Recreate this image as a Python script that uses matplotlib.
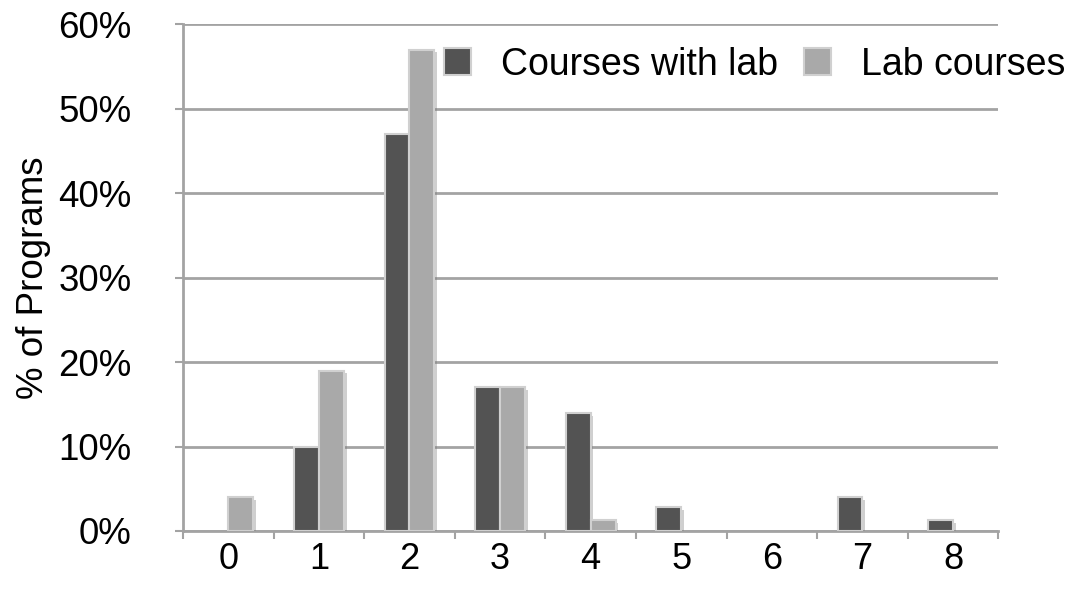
import matplotlib
matplotlib.use("Agg")
import matplotlib.pyplot as plt
import matplotlib.patheffects as pe
from matplotlib.patches import Patch
import numpy as np

categories = ["0", "1", "2", "3", "4", "5", "6", "7", "8"]
courses_with_lab = [0, 10, 47, 17, 14, 2.8, 0, 4, 1.3]
lab_courses = [4, 19, 57, 17, 1.3, 0, 0, 0, 0]
y_ticks = [0, 10, 20, 30, 40, 50, 60]

dark = "#535353"
light = "#a9a9a9"
edge = "#d0d0d0"

plt.rcParams["font.family"] = ["Liberation Sans", "DejaVu Sans"]

fig = plt.figure(figsize=(10.7, 5.9), dpi=100)
ax = fig.add_axes([0.171, 0.1, 0.762, 0.859])

x = np.arange(len(categories))
w = 0.275
shadow = [pe.SimplePatchShadow(offset=(2, -2), alpha=0.35, shadow_rgbFace="#777777"), pe.Normal()]

b1 = ax.bar(x - w / 2, courses_with_lab, width=w, color=dark,
            edgecolor=edge, linewidth=1.5, zorder=3)
b2 = ax.bar(x + w / 2, lab_courses, width=w, color=light,
            edgecolor=edge, linewidth=1.5, zorder=3)
for bars, vals in ((b1, courses_with_lab), (b2, lab_courses)):
    for rect, v in zip(bars, vals):
        if v > 0:
            rect.set_path_effects(shadow)
        else:
            rect.set_visible(False)

ax.set_xlim(-0.5, len(categories) - 0.5)
ax.set_ylim(0, 60)
ax.set_yticks(y_ticks)
ax.set_yticklabels([f"{t}%" for t in y_ticks])
ax.set_xticks(x)
ax.set_xticklabels(categories)
ax.set_xticks(np.arange(-0.5, len(categories), 1.0), minor=True)

grid_color = "#a3a3a3"
ax.yaxis.grid(True, color=grid_color, linewidth=2, zorder=0)
ax.set_axisbelow(True)
for s in ("top", "right"):
    ax.spines[s].set_visible(False)
for s in ("left", "bottom"):
    ax.spines[s].set_color(grid_color)
    ax.spines[s].set_linewidth(2)

ax.tick_params(axis="y", which="major", length=6, width=1.5, color=grid_color,
               labelsize=26.5, pad=31)
ax.tick_params(axis="x", which="major", length=0, labelsize=26, pad=8)
ax.tick_params(axis="x", which="minor", length=6, width=1.5, color=grid_color)

ax.set_ylabel("% of Programs", fontsize=26.5)
ax.yaxis.set_label_coords(-0.162, 0.5)

handles = [Patch(facecolor=dark, edgecolor=edge, linewidth=1.5),
           Patch(facecolor=light, edgecolor=edge, linewidth=1.5)]
ax.legend(handles, ["Courses with lab", "Lab courses"], loc="upper right",
          bbox_to_anchor=(1.11, 1.0), ncol=2, frameon=False,
          fontsize=27, handlelength=0.72, handleheight=0.72,
          handletextpad=0.8, columnspacing=0.7, borderaxespad=0.2)

fig.savefig("out.png", dpi=100)
